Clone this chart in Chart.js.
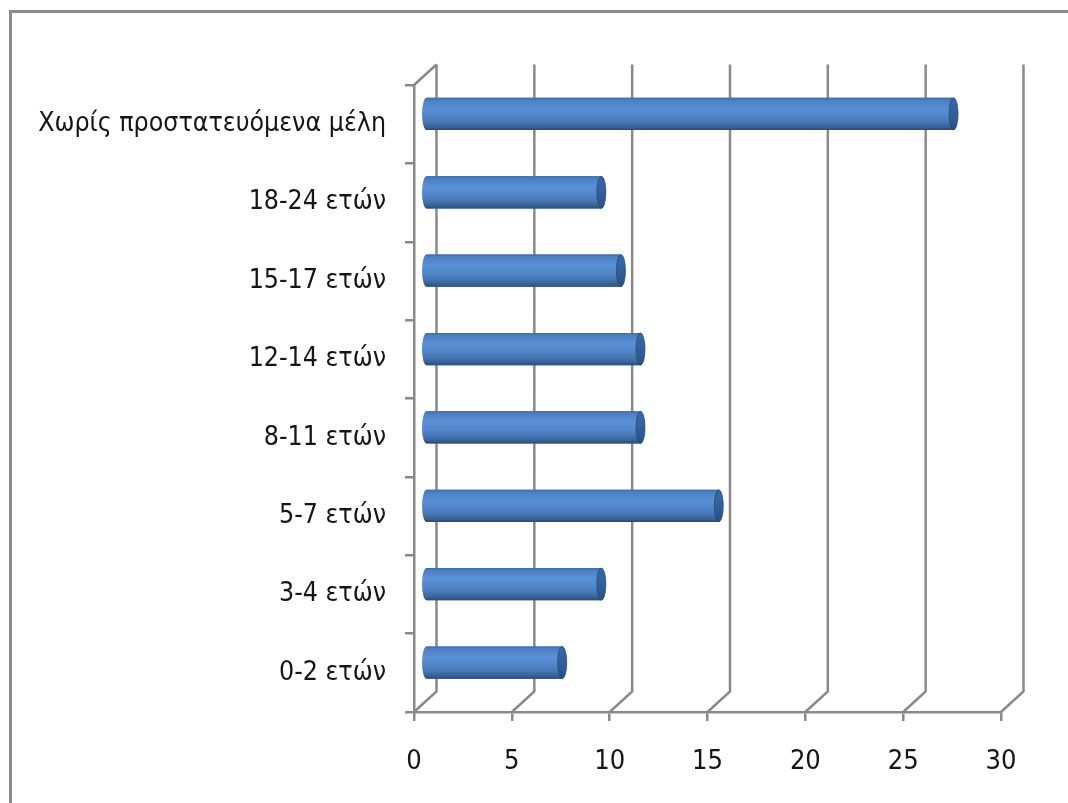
<!DOCTYPE html>
<html lang="el">
<head>
<meta charset="utf-8">
<title>Κατανομή ανά ηλικία προστατευόμενων μελών</title>
<script src="https://cdn.jsdelivr.net/npm/chart.js@4/dist/chart.umd.min.js"></script>
<style>
  html, body { margin: 0; padding: 0; background: #ffffff; }
  #wrap { width: 1068px; height: 803px; position: relative; overflow: hidden; }
  canvas { display: block; }
</style>
</head>
<body>
<div id="wrap"><canvas id="chart" width="1068" height="803"></canvas></div>
<script>
// Categories (bottom to top) and their values
const categories = [
  '0-2 ετών',
  '3-4 ετών',
  '5-7 ετών',
  '8-11 ετών',
  '12-14 ετών',
  '15-17 ετών',
  '18-24 ετών',
  'Χωρίς προστατευόμενα μέλη'
];
const values = [7, 9, 15, 11, 11, 10, 9, 27];

// Value axis ticks
const xTicks = [0, 5, 10, 15, 20, 25, 30];

// Perspective depth of the 3-D box (back wall offset)
const DEPTH_X = 22.5;
const DEPTH_Y = -20.5;
const LINE = '#898989';
const FONT = "'DejaVu Sans Condensed', 'Liberation Sans Narrow', sans-serif";

// Draws the outer frame, the back wall with its grid, and turns the bars into cylinders
const boxPlugin = {
  id: 'box3d',
  beforeDraw(chart) {
    const ctx = chart.ctx;
    ctx.save();
    ctx.strokeStyle = LINE;
    ctx.lineWidth = 3;
    ctx.beginPath();
    ctx.moveTo(chart.width, 11.5);
    ctx.lineTo(10.5, 11.5);
    ctx.lineTo(10.5, chart.height);
    ctx.stroke();
    ctx.restore();
  },
  beforeDatasetsDraw(chart) {
    const { ctx, chartArea: a, scales: { x } } = chart;
    ctx.save();
    ctx.strokeStyle = LINE;
    ctx.lineWidth = 2.5;
    x.ticks.forEach(t => {
      const px = x.getPixelForValue(t.value);
      ctx.beginPath();
      ctx.moveTo(px + DEPTH_X, a.top + DEPTH_Y);
      ctx.lineTo(px + DEPTH_X, a.bottom + DEPTH_Y);
      ctx.lineTo(px, a.bottom);
      ctx.stroke();
    });
    // top edge of the side wall
    ctx.beginPath();
    ctx.moveTo(a.left, a.top);
    ctx.lineTo(a.left + DEPTH_X, a.top + DEPTH_Y);
    ctx.stroke();
    ctx.restore();

    // bars sit halfway into the box depth
    ctx.save();
    ctx.translate(DEPTH_X / 2, DEPTH_Y / 2);
  },
  afterDatasetsDraw(chart) {
    const ctx = chart.ctx;
    const meta = chart.getDatasetMeta(0);
    meta.data.forEach(bar => {
      const { x, y, base, height } = bar.getProps(['x', 'y', 'base', 'height'], true);
      const top = y - height / 2;
      const bot = y + height / 2;
      const ry = height / 2;
      const rx = 4.5;

      const body = ctx.createLinearGradient(0, top, 0, bot);
      body.addColorStop(0.00, '#3c6aa6');
      body.addColorStop(0.07, '#4c7fc2');
      body.addColorStop(0.32, '#5a90d6');
      body.addColorStop(0.52, '#5589cd');
      body.addColorStop(0.76, '#4677b5');
      body.addColorStop(0.92, '#365f93');
      body.addColorStop(1.00, '#2a4a75');

      ctx.beginPath();
      ctx.moveTo(base, top);
      ctx.lineTo(x, top);
      ctx.lineTo(x, bot);
      ctx.lineTo(base, bot);
      ctx.ellipse(base, y, rx, ry, 0, Math.PI / 2, Math.PI * 1.5);
      ctx.closePath();
      ctx.fillStyle = body;
      ctx.fill();

      const cap = ctx.createLinearGradient(0, top, 0, bot);
      cap.addColorStop(0, '#3a68a2');
      cap.addColorStop(0.5, '#33609a');
      cap.addColorStop(1, '#2a4f80');
      ctx.beginPath();
      ctx.ellipse(x, y, rx, ry, 0, 0, Math.PI * 2);
      ctx.fillStyle = cap;
      ctx.fill();
      ctx.lineWidth = 0.8;
      ctx.strokeStyle = '#2b4a74';
      ctx.stroke();
    });
    ctx.restore();
  }
};

new Chart(document.getElementById('chart'), {
  type: 'bar',
  data: {
    labels: categories,
    datasets: [{
      data: values,
      backgroundColor: '#4f81bd',
      borderWidth: 0,
      categoryPercentage: 1,
      barPercentage: 0.41,
      clip: false
    }]
  },
  options: {
    indexAxis: 'y',
    responsive: false,
    devicePixelRatio: 1,
    animation: false,
    events: [],
    layout: { padding: { top: 85, right: 67, left: 0, bottom: 0 } },
    plugins: {
      legend: { display: false },
      tooltip: { enabled: false },
      title: { display: false }
    },
    scales: {
      x: {
        type: 'linear',
        min: 0,
        max: 30,
        afterBuildTicks(scale) { scale.ticks = xTicks.map(v => ({ value: v })); },
        afterFit(scale) { scale.height = 91; },
        grid: {
          drawOnChartArea: false,
          drawTicks: true,
          tickLength: 9,
          color: LINE,
          lineWidth: 2.5
        },
        border: { display: true, color: LINE, width: 2.5 },
        ticks: {
          padding: 25,
          color: '#151515',
          font: { family: FONT, size: 27 },
          maxRotation: 0
        }
      },
      y: {
        type: 'category',
        reverse: true,
        offset: true,
        afterFit(scale) { scale.width = 414; },
        grid: {
          offset: true,
          drawOnChartArea: false,
          drawTicks: true,
          tickLength: 9,
          color: LINE,
          lineWidth: 2.5
        },
        border: { display: true, color: LINE, width: 2.5 },
        ticks: {
          padding: 19,
          color: '#151515',
          font: { family: FONT, size: 26.5 },
          autoSkip: false
        }
      }
    }
  },
  plugins: [boxPlugin]
});
</script>
</body>
</html>
